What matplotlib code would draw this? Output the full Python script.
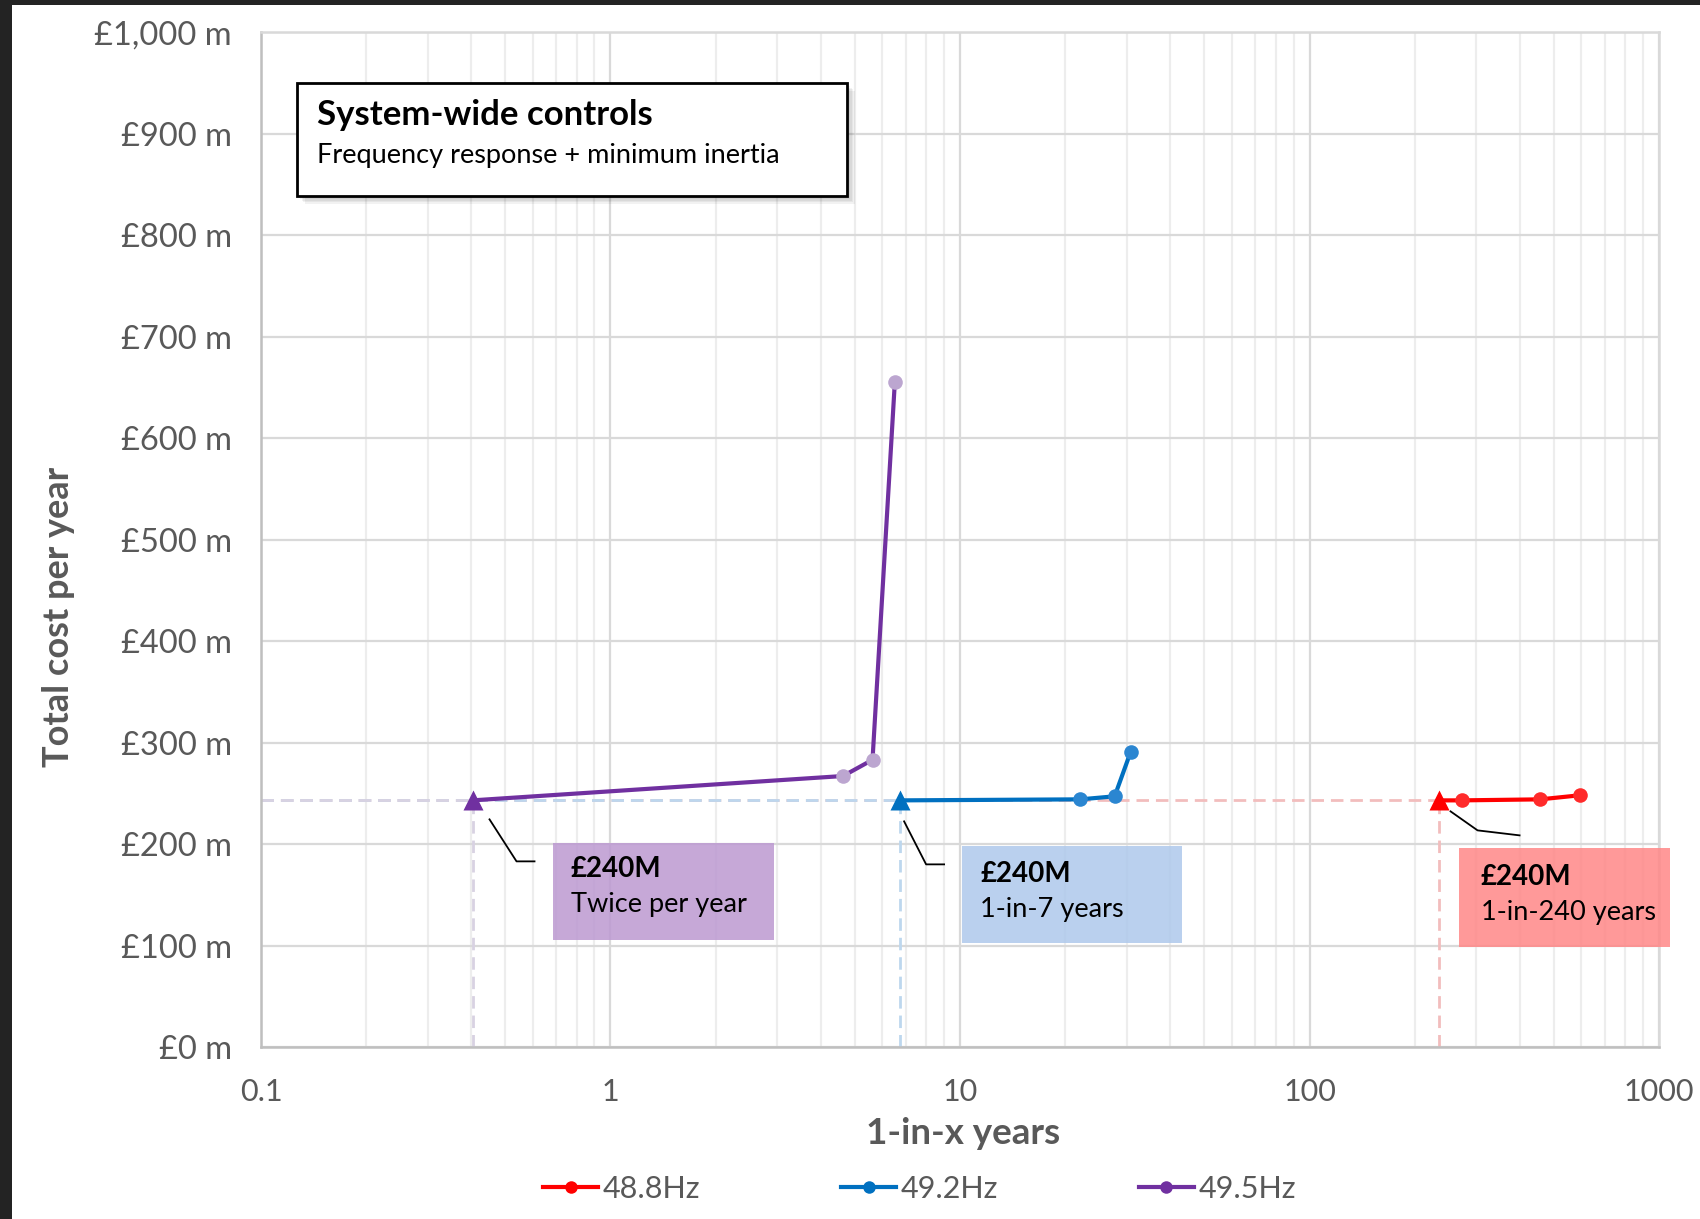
import matplotlib
matplotlib.use("Agg")
import matplotlib.pyplot as plt
import matplotlib.patches as patches
import matplotlib.transforms as mtransforms
from matplotlib.lines import Line2D
from matplotlib.ticker import FuncFormatter, LogLocator, NullFormatter

# data (x = 1-in-x years, y = £m per year)
series_names = ["48.8Hz", "49.2Hz", "49.5Hz"]
x_488 = [234, 273, 457, 593]
y_488 = [243, 243, 244, 248]
x_492 = [6.74, 22.1, 27.7, 30.8]
y_492 = [243, 244, 247, 291]
x_495 = [0.403, 4.63, 5.62, 6.51]
y_495 = [243, 267, 283, 655]

callout_values = ["£240M", "£240M", "£240M"]
callout_texts = ["1-in-240 years", "1-in-7 years", "Twice per year"]

y_ticks = list(range(0, 1001, 100))
x_decades = [0.1, 1, 10, 100, 1000]

title_main = "System-wide controls"
title_sub = "Frequency response + minimum inertia"

# styles
line_colors = ["#FF0000", "#0070C0", "#7030A0"]
dot_colors = ["#FF2B2B", "#2B86D1", "#BCA6D0"]
guide_colors = ["#F2BDBD", "#BDD7EE", "#D8D2E2"]
box_colors = ["#FF8787", "#AEC8EB", "#BC99D1"]
# callout layout in pixels relative to the triangle point
box_off = [(20, -147, 211, 99), (62, -143, 220, 97), (80, -140, 221, 97)]
text_off = [(42, -77, -112), (80, -74, -109), (98, -69, -104)]
leader_off = [[(12, -11), (39, -30), (81, -35)],
              [(4, -21), (26, -64), (44, -64)],
              [(17, -19), (44, -61), (62, -61)]]

plt.rcParams["font.family"] = ["Lato", "DejaVu Sans"]
grey = "#595959"

fig = plt.figure(figsize=(17, 12.19), dpi=100)
ax = fig.add_axes([0.1535, 0.1411, 0.8224, 0.8326])
ax.set_xscale("log")
ax.set_xlim(0.1, 1000)
ax.set_ylim(0, 1000)

ax.set_yticks(y_ticks)
ax.yaxis.set_major_formatter(FuncFormatter(lambda v, p: f"£{v:,.0f} m"))
ax.set_xticks(x_decades, labels=[f"{v:g}" for v in x_decades])
ax.xaxis.set_minor_locator(LogLocator(base=10, subs=range(2, 10)))
ax.xaxis.set_minor_formatter(NullFormatter())
ax.tick_params(axis="both", which="both", length=0, labelcolor=grey)
ax.tick_params(axis="y", pad=21, labelsize=23.5)
ax.tick_params(axis="x", pad=22, labelsize=22)

ax.grid(which="major", color="#D9D9D9", linewidth=1.6)
ax.grid(which="minor", axis="x", color="#EDEDED", linewidth=1.6)
ax.set_axisbelow(True)
for side in ["left", "bottom"]:
    ax.spines[side].set_color("#BFBFBF")
    ax.spines[side].set_linewidth(1.8)
for side in ["top", "right"]:
    ax.spines[side].set_color("#D9D9D9")
    ax.spines[side].set_linewidth(1.8)

ax.set_ylabel("Total cost per year", fontsize=26, fontweight="bold", color=grey)
ax.yaxis.set_label_coords(-0.145, 0.424)
ax.yaxis.label.set_va("center")
ax.set_xlabel("1-in-x years", fontsize=26.5, fontweight="bold", color=grey)
ax.xaxis.set_label_coords(0.502, -0.085)
ax.xaxis.label.set_va("center")

all_x = [x_488, x_492, x_495]
all_y = [y_488, y_492, y_495]

# dashed guides to the axes
for i in range(3):
    x0, y0 = all_x[i][0], all_y[i][0]
    ax.plot([0.1, x0], [y0, y0], color=guide_colors[i], lw=2, ls=(0, (4.5, 2.5)), zorder=2)
    ax.plot([x0, x0], [0, y0], color=guide_colors[i], lw=2, ls=(0, (4.5, 2.5)), zorder=2)

for i in range(3):
    xs, ys = all_x[i], all_y[i]
    ax.plot(xs, ys, color=line_colors[i], lw=3, zorder=4)
    ax.plot(xs[1:], ys[1:], "o", color=dot_colors[i], ms=10.5, mec="none", zorder=5)
    ax.plot(xs[0], ys[0], "^", color=line_colors[i], ms=15, mec="none", zorder=6)

# callouts, positioned in pixels from the triangle
for i in range(3):
    px, py = ax.transData.transform((all_x[i][0], all_y[i][0]))
    tr = mtransforms.Affine2D().translate(px, py)
    bx, by, bw, bh = box_off[i]
    ax.add_patch(patches.Rectangle((bx, by), bw, bh, transform=tr, facecolor=box_colors[i],
                                   edgecolor="none", alpha=0.85, zorder=3, clip_on=False))
    tx, t1, t2 = text_off[i]
    ax.text(tx, t1, callout_values[i], transform=tr, fontsize=20, fontweight="bold",
            va="center", ha="left", color="black", zorder=7)
    ax.text(tx, t2, callout_texts[i], transform=tr, fontsize=19.5,
            va="center", ha="left", color="black", zorder=7)
    lx = [p[0] for p in leader_off[i]]
    ly = [p[1] for p in leader_off[i]]
    ax.add_line(Line2D(lx, ly, transform=tr, color="black", lw=1.3, zorder=7, clip_on=False))

# title box with soft shadow
bl, bb, bw, bh = 0.1747, 0.8392, 0.3235, 0.0927
for k in range(1, 6):
    fig.patches.append(patches.Rectangle((bl + k * 0.0009, bb - k * 0.0013), bw, bh,
                                         transform=fig.transFigure, facecolor="black",
                                         edgecolor="none", alpha=0.05, zorder=8))
fig.patches.append(patches.Rectangle((bl, bb), bw, bh, transform=fig.transFigure,
                                     facecolor="white", edgecolor="black", lw=2, zorder=9))
fig.text(0.1862, 0.9057, title_main, fontsize=25, fontweight="bold", va="center", zorder=10)
fig.text(0.1862, 0.8728, title_sub, fontsize=19.5, va="center", zorder=10)

handles = [Line2D([], [], color=line_colors[i], lw=3, marker="o", ms=9, mec="none")
           for i in range(3)]
fig.legend(handles, series_names, loc="center", bbox_to_anchor=(0.541, 0.0246), ncol=3,
           frameon=False, fontsize=22, labelcolor=grey, handlelength=1.8,
           handletextpad=0.15, columnspacing=4.6)

# dark screenshot edge
fig.patches.append(patches.Rectangle((0, 0), 12 / 1700, 1, transform=fig.transFigure,
                                     facecolor="#232323", edgecolor="none", zorder=20))
fig.patches.append(patches.Rectangle((0, 1 - 5 / 1219), 1, 5 / 1219, transform=fig.transFigure,
                                     facecolor="#232323", edgecolor="none", zorder=20))

fig.savefig("out.png", dpi=100)
